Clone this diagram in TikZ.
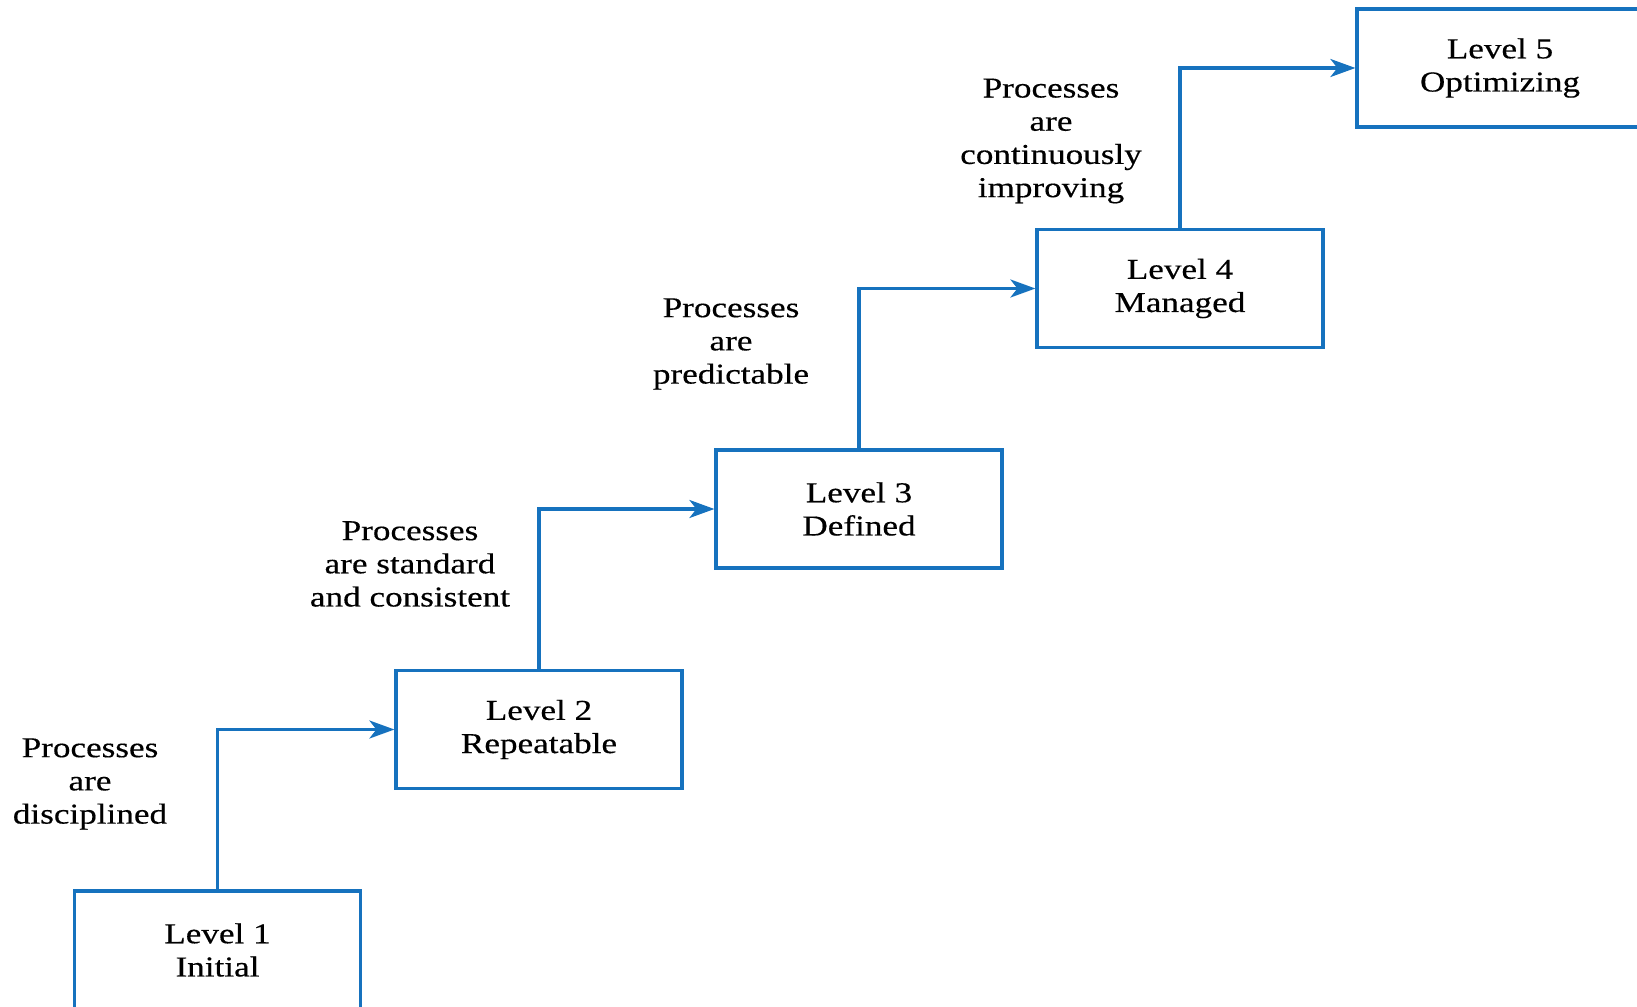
\documentclass[tikz,border=0pt]{standalone}
\usepackage{fontspec}
\setmainfont{Liberation Serif}
\newfontfamily\wideserif[FakeStretch=1.22,FakeBold=0.4]{Liberation Serif}
\usetikzlibrary{arrows.meta}
\definecolor{cmmblue}{RGB}{22,114,190}
\begin{document}
\begin{tikzpicture}[x=0.5pt,y=-0.5pt,
  txt/.style={font=\wideserif\fontsize{14.4}{16.6}\selectfont, align=center, inner sep=0pt},
  levelbox/.style={txt, draw=cmmblue, line width=1.6pt, minimum width=143pt, minimum height=59pt},
  stepup/.style={draw=cmmblue, line width=1.6pt, -{Stealth[length=12.5pt,width=9pt,inset=3.5pt]}}]
\useasboundingbox (0,0) rectangle (1637,1006);
\clip (0,0) rectangle (1637,1006);
% maturity levels
\node[levelbox] (l1) at (217.5,950) {Level 1\\Initial};
\node[levelbox] (l2) at (539,729.5) {Level 2\\Repeatable};
\node[levelbox] (l3) at (859,509) {Level 3\\Defined};
\node[levelbox] (l4) at (1180,288.5) {Level 4\\Managed};
\node[levelbox] (l5) at (1500,68) {Level 5\\Optimizing};
% step connectors
\draw[stepup] (l1.north) |- (l2.west);
\draw[stepup] (l2.north) |- (l3.west);
\draw[stepup] (l3.north) |- (l4.west);
\draw[stepup] (l4.north) |- (l5.west);
% step descriptions
\node[txt] (d1) at (90,784) {Processes\\are\\disciplined};
\node[txt] (d2) at (410,564) {Processes\\are standard\\and consistent};
\node[txt] (d3) at (731,344) {Processes\\are\\predictable};
\node[txt] (d4) at (1051,141) {Processes\\are\\continuously\\improving};
\end{tikzpicture}
\end{document}
